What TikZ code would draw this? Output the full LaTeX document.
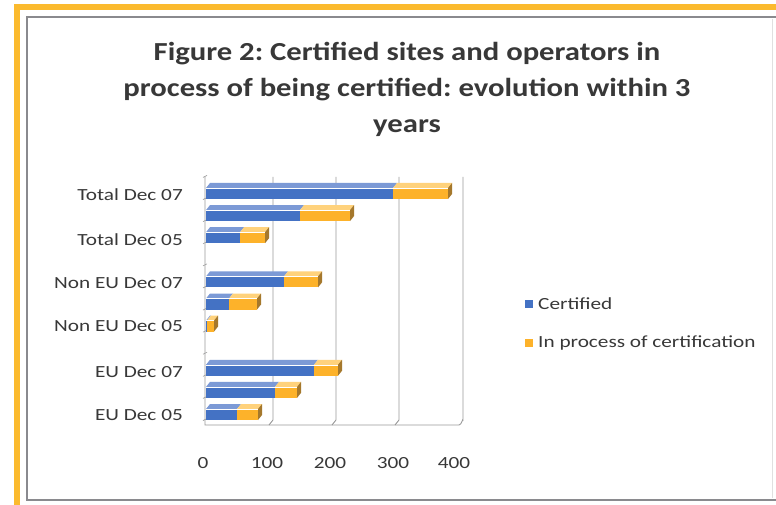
\documentclass[tikz,border=0pt]{standalone}
\usepackage{fontspec}
\setmainfont{Carlito}[FakeStretch=1.25]
\newfontfamily\titlefont{Carlito}[FakeStretch=1.18]
\definecolor{frameorange}{HTML}{FBBA2E}
\definecolor{framegray}{HTML}{8A8A8E}
\definecolor{txtgray}{HTML}{383838}
\definecolor{bluefront}{HTML}{4472C4}
\definecolor{bluetop}{HTML}{7C9AD6}
\definecolor{orfront}{HTML}{FDB22A}
\definecolor{ortop}{HTML}{FFD27C}
\definecolor{orside}{HTML}{A5782C}
\definecolor{gridgray}{HTML}{9A9A9A}
\tikzset{
  catlabel/.style={anchor=east, text=txtgray, font=\fontsize{17}{19}\selectfont, inner sep=0pt},
  ticklabel/.style={text=txtgray, font=\fontsize{17}{19}\selectfont, inner sep=0pt},
  legendtext/.style={anchor=west, text=txtgray, font=\fontsize{17}{19}\selectfont, inner sep=0pt},
  gridline/.style={draw=gridgray, line width=0.9pt},
}
\newcommand{\drawseg}[5]{% y-center, x0, x1, front color, top color
  \fill[#4] (#2,#1-5.5) rectangle (#3,#1+5.5);
  \fill[#5] (#2,#1-5.5) -- (#3,#1-5.5) -- (#3+4,#1-10.5) -- (#2+4,#1-10.5) -- cycle;
  \draw[white, line width=0.5pt] (#2,#1-5.5) -- (#3,#1-5.5);
}
\frenchspacing
\begin{document}
\begin{tikzpicture}[x=1pt,y=-1pt]
\useasboundingbox (0,0) rectangle (776,505);
% frame
\fill[white] (0,0) rectangle (776,505);
\fill[frameorange] (14,4) rectangle (776,10);
\fill[frameorange] (14,4) rectangle (20,505);
\draw[framegray, line width=1.6pt] (785,17) -- (27,17) -- (27,500) -- (785,500);
\draw[black!12, line width=0.8pt] (772,19) -- (772,498);
% title
\node[text=txtgray, font=\titlefont\bfseries\fontsize{26}{36}\selectfont, align=center, inner sep=0pt] (title) at (407,89.5)
  {Figure 2: Certified sites and operators in\\process of being certified: evolution within 3\\years};
% grid
\draw[gridline] (205,177) -- (205,425) -- (459,425) to[out=0,in=90] (463,420) -- (463,177);
\foreach \gx in {273,336,399}{
  \draw[gridline] (\gx,177) -- (\gx,420) -- (\gx-4,425);
}
\foreach \k in {0,...,11}{
  \draw[gridline, line width=0.6pt] (203,{414.5-(\k-0.5)*22.1-5}) -- (207,{414.5-(\k-0.5)*22.1-7});
}
% bars
\foreach \k/\b/\o in {11/393/448,10/300/350,9/240/265,7/284/318,6/229/257,5/207/214,3/314/338,2/275/297,1/237/258}{
  \pgfmathsetmacro{\cy}{414.5-(\k-1)*22.1}
  \drawseg{\cy}{206}{\b}{bluefront}{bluetop}
  \drawseg{\cy}{\b}{\o}{orfront}{ortop}
  \fill[orside] (\o,\cy-5.5) -- (\o+4,\cy-10.5) -- (\o+4,\cy+0.5) -- (\o,\cy+5.5) -- cycle;
}
% category labels
\node[catlabel] (l11) at (183,195) {Total Dec 07};
\node[catlabel] (l9) at (183,240) {Total Dec 05};
\node[catlabel] (l7) at (183,283) {Non EU Dec 07};
\node[catlabel] (l5) at (183,326) {Non EU Dec 05};
\node[catlabel] (l3) at (183,372) {EU Dec 07};
\node[catlabel] (l1) at (183,415) {EU Dec 05};
% value labels
\node[ticklabel] (t0) at (203,463) {0};
\node[ticklabel] (t100) at (267,463) {100};
\node[ticklabel] (t200) at (330,463) {200};
\node[ticklabel] (t300) at (393,463) {300};
\node[ticklabel] (t400) at (454,463) {400};
% legend
\fill[bluefront] (525,300) rectangle (533,308);
\node[legendtext] (leg1) at (538,304) {Certified};
\fill[orfront] (525,339) rectangle (533,347);
\node[legendtext] (leg2) at (538,343) {In process of certification};
\end{tikzpicture}
\end{document}
